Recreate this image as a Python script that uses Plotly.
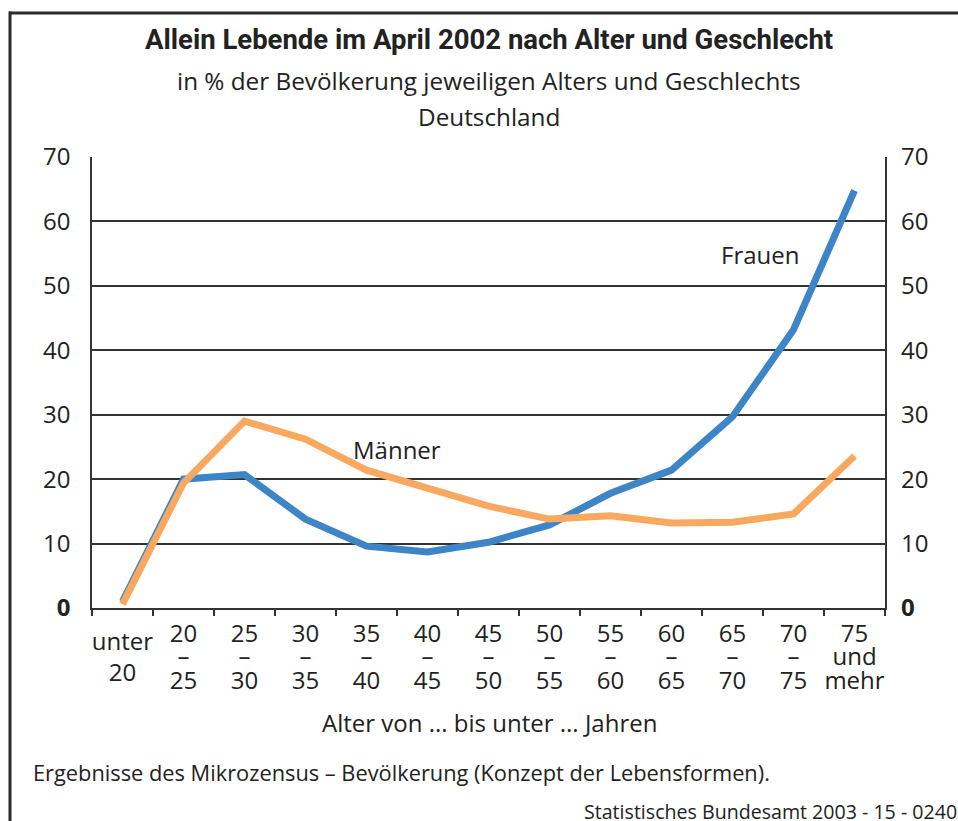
import plotly.graph_objects as go

# ---- data ----
categories = ["unter 20", "20–25", "25–30", "30–35", "35–40", "40–45", "45–50",
              "50–55", "55–60", "60–65", "65–70", "70–75", "75 und mehr"]
frauen = [1.0, 20.0, 20.7, 13.8, 9.6, 8.7, 10.2, 12.9, 17.8, 21.4, 29.7, 43.2, 64.8]
maenner = [0.6, 19.4, 29.0, 26.2, 21.4, 18.5, 15.8, 13.8, 14.3, 13.2, 13.3, 14.6, 23.6]

label_row1 = ["", "20", "25", "30", "35", "40", "45", "50", "55", "60", "65", "70", "75"]
label_row2 = ["", "–", "–", "–", "–", "–", "–", "–", "–", "–", "–", "–", "und"]
label_row3 = ["", "25", "30", "35", "40", "45", "50", "55", "60", "65", "70", "75", "mehr"]
label_first = ["unter<br>20"] + [""] * 12

y_tickvals = [0, 10, 20, 30, 40, 50, 60, 70]
y_ticktext = ["<b>0</b>", "10", "20", "30", "40", "50", "60", "70"]

BLUE = "#3d85c6"
ORANGE = "#f9a95f"
TXT = "#222222"
FONT = "'Open Sans', Lato, sans-serif"
TITLE_FONT = "'Liberation Sans Narrow', Roboto, sans-serif"

W, H = 958, 821
L, R, T, B = 92, 73, 157, 213
PW, PH = W - L - R, H - T - B


def xp(px):
    return (px - L) / PW


def yp(py):
    return (H - B - py) / PH


idx = list(range(len(categories)))

fig = go.Figure()
fig.add_trace(go.Scatter(x=categories, y=frauen, mode="lines", name="Frauen",
                         line=dict(color=BLUE, width=7), showlegend=False))
fig.add_trace(go.Scatter(x=categories, y=maenner, mode="lines", name="Männer",
                         line=dict(color=ORANGE, width=7), showlegend=False))
# empty traces so that the overlay axes get their subplots
for xa in ["x2", "x3", "x4"]:
    fig.add_trace(go.Scatter(x=[None], y=[None], xaxis=xa, yaxis="y", showlegend=False, hoverinfo="skip"))
fig.add_trace(go.Scatter(x=[None], y=[None], xaxis="x", yaxis="y2", showlegend=False, hoverinfo="skip"))

tickfont = dict(family=FONT, size=24, color=TXT)
overlay = dict(overlaying="x", anchor="y", side="bottom", type="linear",
               range=[-0.5, len(categories) - 0.5], tickmode="array", tickvals=idx,
               showline=False, showgrid=False, zeroline=False, ticks="", tickfont=tickfont)

fig.update_layout(
    width=W, height=H,
    margin=dict(l=L, r=R, t=T, b=B),
    paper_bgcolor="white", plot_bgcolor="white",
    font=dict(family=FONT, color=TXT),
    xaxis=dict(type="category", categoryorder="array", categoryarray=categories,
               range=[-0.5, len(categories) - 0.5],
               tickmode="array", tickvals=categories, ticktext=label_row1,
               tickson="boundaries", ticks="outside", ticklen=6, tickwidth=1.5, tickcolor="#333",
               showline=True, linecolor="#333", linewidth=2, mirror=False,
               showgrid=False, zeroline=False, tickfont=tickfont, ticklabelstandoff=3),
    xaxis2=dict(**overlay, ticktext=label_row2, ticklabelstandoff=32),
    xaxis3=dict(**overlay, ticktext=label_row3, ticklabelstandoff=56),
    xaxis4=dict(**overlay, ticktext=label_first, ticklabelstandoff=17),
    yaxis=dict(range=[0, 70], tickmode="array", tickvals=y_tickvals, ticktext=y_ticktext,
               showgrid=True, gridcolor="#333", gridwidth=1.5,
               showline=True, linecolor="#333", linewidth=1.5, mirror=True,
               zeroline=False, ticks="", tickfont=tickfont, ticklabelstandoff=15),
    yaxis2=dict(range=[0, 70], overlaying="y", side="right", anchor="x",
                tickmode="array", tickvals=y_tickvals, ticktext=y_ticktext,
                showgrid=False, showline=False, zeroline=False, ticks="",
                tickfont=tickfont, ticklabelstandoff=15),
)

annotations = [
    dict(text="<b>Allein Lebende im April 2002 nach Alter und Geschlecht</b>",
         x=xp(489), y=yp(40), font=dict(family=TITLE_FONT, size=27.5, color=TXT)),
    dict(text="in % der Bevölkerung jeweiligen Alters und Geschlechts",
         x=xp(489), y=yp(80), font=dict(family=FONT, size=24.3, color=TXT)),
    dict(text="Deutschland", x=xp(489), y=yp(116), font=dict(family=FONT, size=24.3, color=TXT)),
    dict(text="Alter von ... bis unter ... Jahren", x=xp(489), y=yp(722),
         font=dict(family=FONT, size=24, color=TXT)),
    dict(text="Ergebnisse des Mikrozensus – Bevölkerung (Konzept der Lebensformen).",
         x=xp(31), y=yp(772), xanchor="left", font=dict(family=FONT, size=21.8, color=TXT)),
    dict(text="Statistisches Bundesamt 2003 - 15 - 0240",
         x=xp(582), y=yp(811), xanchor="left", font=dict(family=FONT, size=19.6, color=TXT)),
]
for a in annotations:
    a.update(xref="paper", yref="paper", showarrow=False)
    a.setdefault("xanchor", "center")
    a["yanchor"] = "middle"

annotations += [
    dict(text="Männer", x=4.5, y=24.6, xref="x", yref="y", showarrow=False,
         font=dict(family=FONT, size=24, color=TXT)),
    dict(text="Frauen", x=10.45, y=54.8, xref="x", yref="y", showarrow=False,
         font=dict(family=FONT, size=24, color=TXT)),
]
fig.update_layout(annotations=annotations)

# outer frame: top and left edges (right and bottom lie outside the picture)
fig.add_shape(type="rect", xref="paper", yref="paper", layer="above",
              x0=xp(9), x1=xp(958), y0=yp(14.5), y1=yp(11.5),
              fillcolor="#2b2b2b", line=dict(width=0))
fig.add_shape(type="rect", xref="paper", yref="paper", layer="above",
              x0=xp(8.5), x1=xp(11.5), y0=yp(821), y1=yp(11.5),
              fillcolor="#2b2b2b", line=dict(width=0))

fig.write_html("out.html", config={"displayModeBar": False},
               post_script="document.body.style.margin='0';document.body.style.overflow='hidden';")
